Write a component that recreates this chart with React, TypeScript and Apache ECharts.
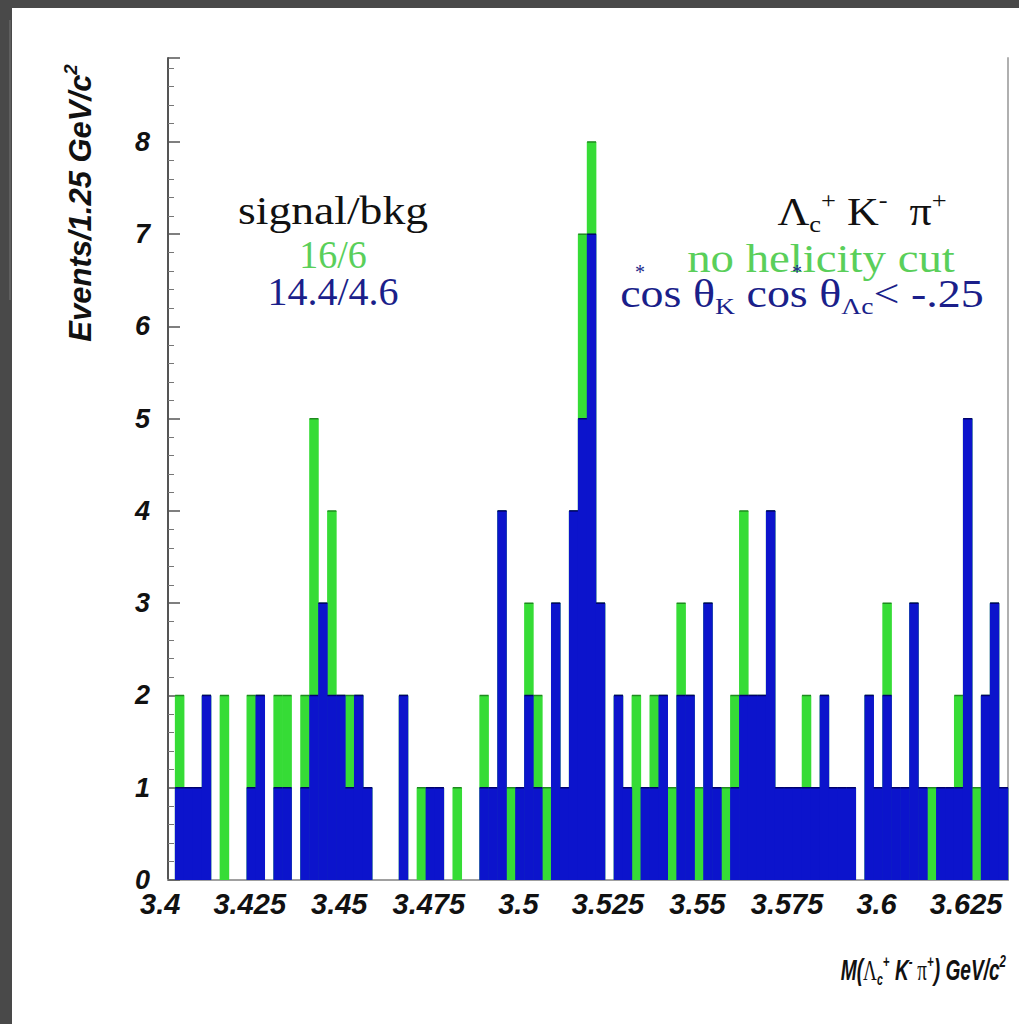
import React, { useEffect, useRef } from "react";
import * as echarts from "echarts";

// ---- data ----
const BIN_START = 3.4;
const BIN_WIDTH = 0.0025;
const X_MIN = 3.398;
const X_MAX = 3.6325;
const Y_MAX = 8.91;
const X_TICKS = [3.4, 3.425, 3.45, 3.475, 3.5, 3.525, 3.55, 3.575, 3.6, 3.625];
const X_TICK_LABELS = ["3.4", "3.425", "3.45", "3.475", "3.5", "3.525", "3.55", "3.575", "3.6", "3.625"];

// events per bin, no helicity cut (green)
const NO_CUT = [
  2, 1, 1, 2, 0, 2, 0, 0, 2, 2,
  0, 2, 2, 0, 2, 5, 3, 4, 2, 2,
  2, 1, 0, 0, 0, 2, 0, 1, 1, 1,
  0, 1, 0, 0, 2, 1, 4, 1, 1, 3,
  2, 1, 3, 1, 4, 7, 8, 3, 0, 2,
  1, 2, 1, 2, 2, 1, 3, 2, 1, 3,
  1, 1, 2, 4, 2, 2, 4, 1, 1, 1,
  2, 1, 2, 1, 1, 1, 0, 2, 1, 3,
  1, 1, 3, 1, 1, 1, 1, 2, 5, 1,
  2, 3, 1,
];
// events per bin, cos θK cos θΛc < -.25 (blue)
const HEL_CUT = [
  1, 1, 1, 2, 0, 0, 0, 0, 1, 2,
  0, 1, 1, 0, 1, 2, 3, 2, 2, 1,
  2, 1, 0, 0, 0, 2, 0, 0, 1, 1,
  0, 0, 0, 0, 1, 1, 4, 0, 1, 2,
  1, 0, 3, 1, 4, 5, 7, 3, 0, 2,
  1, 0, 1, 1, 2, 0, 2, 2, 0, 3,
  1, 0, 1, 2, 2, 2, 4, 1, 1, 1,
  1, 1, 2, 1, 1, 1, 0, 2, 1, 2,
  1, 1, 3, 1, 0, 1, 1, 1, 5, 0,
  2, 3, 1,
];

const GREEN = "#36dc36";
const GREEN_EDGE = "#1f8a1f";
const BLUE = "#0c14cc";
const BLUE_EDGE = "#00006e";
const GREEN_TEXT = "#5acf5a";
const BLUE_TEXT = "#1b1f8a";

const SANS = "'Liberation Sans', Arial, Helvetica, sans-serif";
const SERIF = "'Liberation Serif', 'Times New Roman', Times, serif";

function toBins(values: number[]) {
  return values.map((v, i) => [BIN_START + i * BIN_WIDTH, BIN_START + (i + 1) * BIN_WIDTH, v]);
}

function histSeries(name: string, values: number[], fill: string, edge: string, z: number) {
  return {
    type: "custom",
    name,
    z,
    data: toBins(values),
    encode: { x: [0, 1], y: 2 },
    renderItem: (params: any, api: any) => {
      const x0 = api.value(0);
      const x1 = api.value(1);
      const v = api.value(2);
      if (!v) return null;
      const pTop = api.coord([x0, v]);
      const pBot = api.coord([x1, 0]);
      return {
        type: "group",
        children: [
          {
            type: "rect",
            shape: { x: pTop[0] - 0.3, y: pTop[1], width: pBot[0] - pTop[0] + 0.6, height: pBot[1] - pTop[1] },
            style: { fill, stroke: null },
          },
          {
            type: "line",
            shape: { x1: pTop[0], y1: pTop[1], x2: pBot[0], y2: pTop[1] },
            style: { stroke: edge, lineWidth: 1.5 },
          },
        ],
      };
    },
  };
}

export default function App() {
  const ref = useRef<HTMLDivElement>(null);

  useEffect(() => {
    if (!ref.current) return;
    const chart = echarts.init(ref.current, undefined, { renderer: "svg" });

    const serifRich = (color: string, size: number) => ({
      a: { fontFamily: SERIF, fontSize: size, fill: color, lineHeight: size * 1.2 },
      sb: { fontFamily: SERIF, fontSize: size * 0.6, fill: color, verticalAlign: "bottom", lineHeight: size * 0.6 },
      sp: { fontFamily: SERIF, fontSize: size * 0.6, fill: color, verticalAlign: "top", lineHeight: size * 0.6 },
    });

    const sansRich = (size: number) => ({
      a: { fontFamily: SANS, fontSize: size, fontWeight: "bold", fontStyle: "italic", fill: "#111", lineHeight: size * 1.2 },
      g: { fontFamily: SERIF, fontSize: size, fill: "#111", lineHeight: size * 1.2 },
      sb: { fontFamily: SANS, fontSize: size * 0.55, fontWeight: "bold", fontStyle: "italic", fill: "#111", verticalAlign: "bottom", lineHeight: size * 0.55 },
      sp: { fontFamily: SANS, fontSize: size * 0.6, fontWeight: "bold", fontStyle: "italic", fill: "#111", verticalAlign: "top", lineHeight: size * 0.6 },
    });

    const option: any = {
      animation: false,
      backgroundColor: "#ffffff",
      grid: { left: 168, right: 11, top: 58, bottom: 144, containLabel: false },
      xAxis: [
        {
          type: "value",
          min: X_MIN,
          max: X_MAX,
          axisLine: { show: false },
          axisTick: { show: false },
          splitLine: { show: false },
          axisLabel: {
            customValues: X_TICKS,
            formatter: (v: number) => {
              const i = X_TICKS.findIndex((t) => Math.abs(t - v) < 1e-6);
              return i >= 0 ? X_TICK_LABELS[i] : "";
            },
            fontFamily: SANS,
            fontWeight: "bold",
            fontStyle: "italic",
            fontSize: 29,
            color: "#111",
            margin: 9,
            padding: [0, 30, 0, 0],
          },
        },
        {
          type: "value",
          position: "top",
          min: X_MIN,
          max: X_MAX,
          axisLine: { show: true, lineStyle: { color: "#a0a0a0", width: 2 } },
          axisTick: { show: false },
          axisLabel: { show: false },
          splitLine: { show: false },
        },
      ],
      yAxis: [
        {
          type: "value",
          min: 0,
          max: Y_MAX,
          interval: 1,
          axisLine: { show: true, lineStyle: { color: "#555", width: 2 } },
          axisTick: { show: true, inside: true, length: 12, lineStyle: { color: "#555", width: 1.5 } },
          minorTick: { show: true, splitNumber: 5, length: 6, lineStyle: { color: "#777", width: 1 } },
          splitLine: { show: false },
          axisLabel: {
            formatter: (v: number) => (Number.isInteger(v) ? String(v) : ""),
            showMaxLabel: false,
            fontFamily: SANS,
            fontWeight: "bold",
            fontStyle: "italic",
            fontSize: 27,
            color: "#111",
            margin: 18,
          },
        },
        {
          type: "value",
          position: "right",
          min: 0,
          max: Y_MAX,
          axisLine: { show: true, lineStyle: { color: "#b0b0b0", width: 2 } },
          axisTick: { show: false },
          axisLabel: { show: false },
          splitLine: { show: false },
        },
      ],
      series: [
        histSeries("no helicity cut", NO_CUT, GREEN, GREEN_EDGE, 2),
        histSeries("cos θK cos θΛc < -.25", HEL_CUT, BLUE, BLUE_EDGE, 3),
      ],
      graphic: [
        { type: "rect", left: 0, top: 0, shape: { x: 0, y: 0, width: 1019, height: 8 }, style: { fill: "#494949" }, z: 100 },
        { type: "rect", left: 0, top: 0, shape: { x: 0, y: 0, width: 12, height: 1024 }, style: { fill: "#494949" }, z: 100 },
        { type: "line", shape: { x1: 10, y1: 20, x2: 10, y2: 300 }, style: { stroke: "#777", lineWidth: 1 }, z: 101 },
        {
          type: "text",
          x: 80,
          y: 203,
          rotation: Math.PI / 2,
          style: {
            text: "{a|Events/1.25 GeV/c}{sp|2}",
            rich: sansRich(31),
            align: "center",
            verticalAlign: "middle",
          },
          z: 50,
        },
        {
          type: "text",
          x: 1006,
          y: 970,
          scaleX: 0.66,
          style: {
            text: "{a|M(}{g|Λ}{sb|c}{sp|+}{a| K}{sp|-}{g| π}{sp|+}{a|) GeV/c}{sp|2}",
            rich: sansRich(29),
            align: "right",
            verticalAlign: "middle",
          },
          z: 50,
        },
        // left annotation
        {
          type: "text",
          x: 333,
          y: 210,
          scaleX: 1.14,
          style: { text: "signal/bkg", fontFamily: SERIF, fontSize: 40, fill: "#111", align: "center", verticalAlign: "middle" },
          z: 50,
        },
        {
          type: "text",
          x: 333,
          y: 254,
          scaleX: 0.95,
          style: { text: "16/6", fontFamily: SERIF, fontSize: 40, fill: GREEN_TEXT, align: "center", verticalAlign: "middle" },
          z: 50,
        },
        {
          type: "text",
          x: 333,
          y: 291,
          style: { text: "14.4/4.6", fontFamily: SERIF, fontSize: 40, fill: BLUE_TEXT, align: "center", verticalAlign: "middle" },
          z: 50,
        },
        // right annotation
        {
          type: "text",
          x: 862,
          y: 212,
          scaleX: 1.1,
          style: {
            text: "{a|Λ}{sb|c}{sp|+}{a| K}{sp|-}{a|  π}{sp|+}",
            rich: serifRich("#111", 40),
            align: "center",
            verticalAlign: "middle",
          },
          z: 50,
        },
        {
          type: "text",
          x: 821,
          y: 258,
          scaleX: 1.17,
          style: { text: "no helicity cut", fontFamily: SERIF, fontSize: 40, fill: GREEN_TEXT, align: "center", verticalAlign: "middle" },
          z: 50,
        },
        {
          type: "text",
          x: 802,
          y: 294,
          scaleX: 1.15,
          style: {
            text: "{a|cos θ}{sb|K}{a| cos θ}{sb|Λc}{a|< -.25}",
            rich: serifRich(BLUE_TEXT, 40),
            align: "center",
            verticalAlign: "middle",
          },
          z: 50,
        },
        { type: "text", x: 640, y: 272, style: { text: "*", fontFamily: SERIF, fontSize: 20, fill: BLUE_TEXT, align: "center", verticalAlign: "middle" }, z: 50 },
        { type: "text", x: 797, y: 272, style: { text: "*", fontFamily: SERIF, fontSize: 20, fill: BLUE_TEXT, align: "center", verticalAlign: "middle" }, z: 50 },
      ],
    };

    chart.setOption(option);
    return () => chart.dispose();
  }, []);

  return (
    <div
      ref={ref}
      style={{ position: "fixed", left: 0, top: 0, width: 1019, height: 1024, background: "#fff" }}
    />
  );
}
